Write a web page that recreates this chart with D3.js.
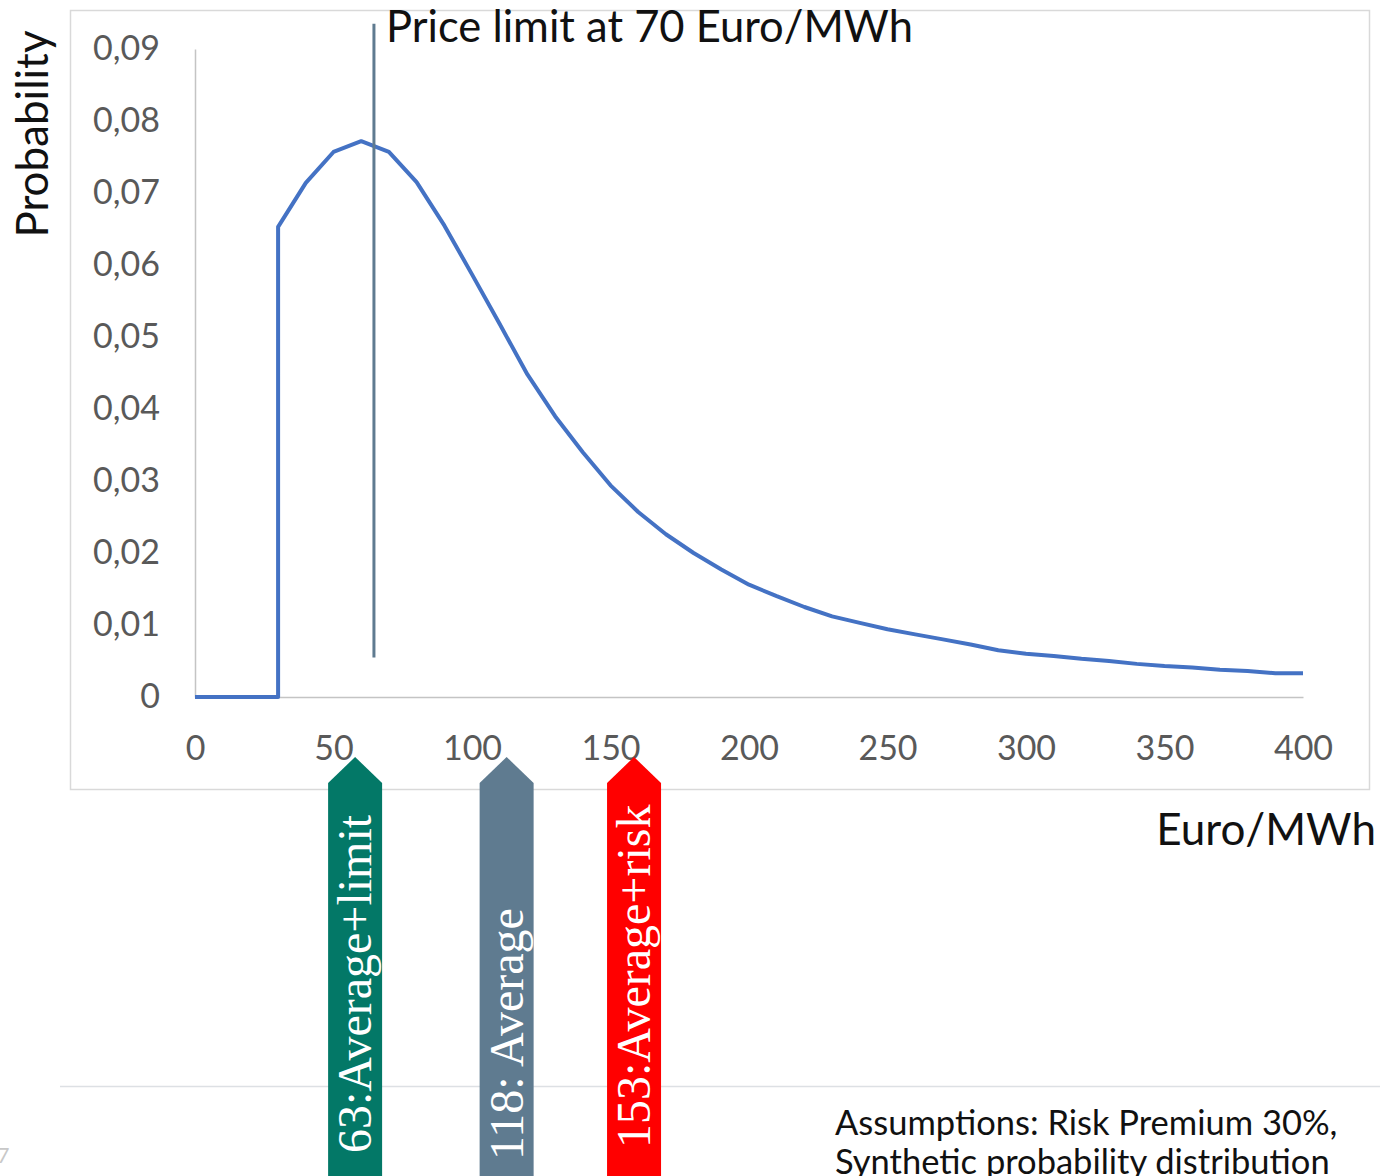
<!DOCTYPE html>
<html>
<head>
<meta charset="utf-8">
<script src="https://cdn.jsdelivr.net/npm/d3@7"></script>
<style>
  html, body { margin: 0; padding: 0; background: #fff; overflow: hidden; }
  svg { display: block; }
</style>
</head>
<body>
<div id="chart"></div>
<script>
// price (Euro/MWh) and probability
var prices = [0, 30, 30, 40, 50, 60, 70, 80, 90, 100, 110, 120, 130, 140, 150, 160, 170, 180, 190, 200,
              210, 220, 230, 240, 250, 260, 270, 280, 290, 300, 310, 320, 330, 340, 350, 360, 370, 380, 390, 400];
var probs = [0, 0, 0.0653, 0.0714, 0.0757, 0.0772, 0.0757, 0.0715, 0.0655, 0.0587, 0.0518, 0.0448, 0.0390, 0.0340, 0.0294, 0.0257, 0.0226, 0.0200, 0.0177, 0.0156,
             0.0140, 0.0125, 0.0112, 0.0103, 0.0094, 0.0087, 0.0080, 0.0073, 0.0065, 0.0060, 0.0057, 0.0053, 0.0050, 0.0046, 0.0043, 0.0041, 0.0038, 0.0036, 0.0033, 0.0033];

var xTicks = [0, 50, 100, 150, 200, 250, 300, 350, 400];
var yTicks = [0, 0.01, 0.02, 0.03, 0.04, 0.05, 0.06, 0.07, 0.08, 0.09];

var limitPrice = 64.6;
var limitSpan = [0.0055, 0.0935];
var limitText = "Price limit at 70 Euro/MWh";

var markerLabels = ["63:Average+limit", "118: Average", "153:Average+risk"];
var markerPrices = [57.8, 112.5, 158.5];
var markerColors = ["#037867", "#5f7b90", "#ff0000"];

const width = 1380;
const height = 1176;

const svg = d3.select("#chart")
  .append("svg")
  .attr("width", width)
  .attr("height", height);

const font = "Lato, 'Open Sans', sans-serif";

// chart frame
svg.append("rect")
  .attr("x", 70.5).attr("y", 10.5)
  .attr("width", 1299).attr("height", 779)
  .attr("fill", "none")
  .attr("stroke", "#d9d9d9")
  .attr("stroke-width", 1.5);

const xScale = d3.scaleLinear().domain([0, 400]).range([195, 1303]);
const yScale = d3.scaleLinear().domain([0, 0.09]).range([697, 49]);

const yAxis = d3.axisLeft(yScale)
  .tickValues(yTicks)
  .tickSize(0)
  .tickPadding(35)
  .tickFormat(d => d === 0 ? "0" : d.toFixed(2).replace(".", ","));

const xAxis = d3.axisBottom(xScale)
  .tickValues(xTicks)
  .tickSize(0)
  .tickPadding(39);

const gy = svg.append("g")
  .attr("transform", "translate(195,0)")
  .call(yAxis);
const gx = svg.append("g")
  .attr("transform", "translate(0,697)")
  .call(xAxis);

[gx, gy].forEach(g => {
  g.select(".domain").attr("stroke", "#c4c4c4").attr("stroke-width", 1.5);
  g.selectAll("text")
    .style("font-family", font)
    .style("font-size", "34px")
    .attr("fill", "#595959");
});

// probability curve
const line = d3.line()
  .x((d, i) => xScale(prices[i]))
  .y(d => yScale(d));

svg.append("path")
  .datum(probs)
  .attr("d", line)
  .attr("fill", "none")
  .attr("stroke", "#4472c4")
  .attr("stroke-width", 4)
  .attr("stroke-linejoin", "round");

// price limit line
svg.append("line")
  .attr("x1", xScale(limitPrice)).attr("x2", xScale(limitPrice))
  .attr("y1", yScale(limitSpan[0])).attr("y2", yScale(limitSpan[1]))
  .attr("stroke", "#5f7b90")
  .attr("stroke-width", 3);

svg.append("text")
  .attr("x", xScale(limitPrice) + 12)
  .attr("y", 42)
  .style("font-family", font)
  .style("font-size", "43.5px")
  .attr("fill", "#111")
  .text(limitText);

// axis titles
svg.append("text")
  .attr("transform", "translate(48,134) rotate(-90)")
  .attr("text-anchor", "middle")
  .style("font-family", font)
  .style("font-size", "44px")
  .attr("fill", "#111")
  .text("Probability");

svg.append("text")
  .attr("x", 1376)
  .attr("y", 845)
  .attr("text-anchor", "end")
  .style("font-family", font)
  .style("font-size", "44px")
  .attr("fill", "#111")
  .text("Euro/MWh");

// slide separator
svg.append("line")
  .attr("x1", 60).attr("x2", 1380)
  .attr("y1", 1086.5).attr("y2", 1086.5)
  .attr("stroke", "#dde0e4")
  .attr("stroke-width", 1.5);

// marker arrows under the axis
const arrowW = 27;
markerPrices.forEach((p, i) => {
  const cx = xScale(p);
  const tip = 757;
  const sh = 783;
  svg.append("path")
    .attr("d", "M" + cx + "," + tip +
      "L" + (cx + arrowW) + "," + sh +
      "L" + (cx + arrowW) + "," + (height + 5) +
      "L" + (cx - arrowW) + "," + (height + 5) +
      "L" + (cx - arrowW) + "," + sh + "Z")
    .attr("fill", markerColors[i]);

  svg.append("text")
    .attr("transform", "translate(" + (cx + 16) + "," + [1153, 1160, 1148][i] + ") rotate(-90)")
    .style("font-family", "'Liberation Serif', 'DejaVu Serif', serif")
    .style("font-size", "48px")
    .attr("fill", "#fff")
    .text(markerLabels[i]);
});

// footnote
svg.append("text")
  .attr("x", 835)
  .attr("y", 1135)
  .style("font-family", font)
  .style("font-size", "34.5px")
  .attr("fill", "#111")
  .text("Assumptions: Risk Premium 30%,");
svg.append("text")
  .attr("x", 835)
  .attr("y", 1174)
  .style("font-family", font)
  .style("font-size", "34.5px")
  .attr("fill", "#111")
  .text("Synthetic probability distribution");

// page number, mostly cut off
svg.append("text")
  .attr("x", -16)
  .attr("y", 1163)
  .style("font-family", font)
  .style("font-size", "22px")
  .attr("fill", "#c8c8c8")
  .text("17");
</script>
</body>
</html>
